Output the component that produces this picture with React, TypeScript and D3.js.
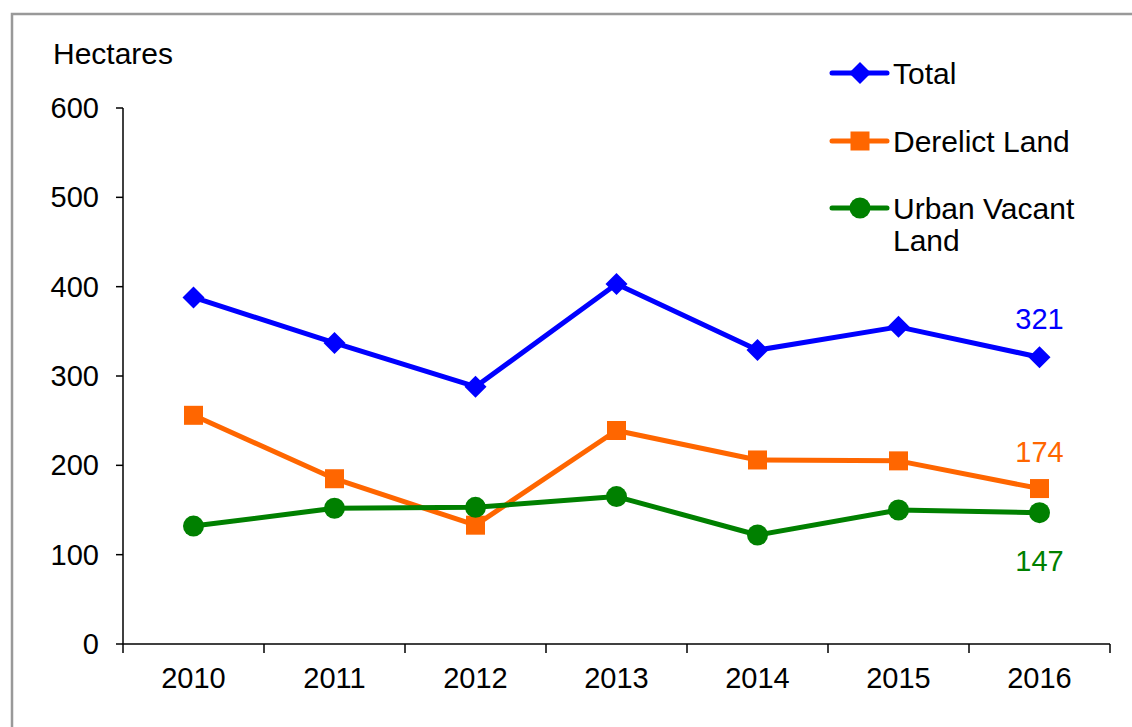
import React from "react";
import * as d3 from "d3";

const years = ["2010", "2011", "2012", "2013", "2014", "2015", "2016"];
const totalValues = [388, 337, 288, 403, 329, 355, 321];
const derelictValues = [256, 185, 133, 239, 206, 205, 174];
const urbanVacantValues = [132, 152, 153, 165, 122, 150, 147];
const yTicks = [0, 100, 200, 300, 400, 500, 600];
const seriesNames = ["Total", "Derelict Land", "Urban Vacant Land"];

const FONT = "'Liberation Sans', Arial, sans-serif";

export default function App() {
  const W = 1132, H = 727;
  const left = 123, right = 1110, top = 108, bottom = 644;
  const x = d3.scaleBand<string>().domain(years).range([left, right]).padding(0);
  const cx = (yr: string) => (x(yr) as number) + x.bandwidth() / 2;
  const y = d3.scaleLinear().domain([0, 600]).range([bottom, top]);

  const series = [
    { name: seriesNames[0], values: totalValues, color: "#0000FF", shape: "diamond" },
    { name: seriesNames[1], values: derelictValues, color: "#FF6600", shape: "square" },
    { name: seriesNames[2], values: urbanVacantValues, color: "#008000", shape: "circle" },
  ];

  const line = d3.line<number>().x((_, i) => cx(years[i])).y((v) => y(v));

  const marker = (shape: string, px: number, py: number, color: string, key: string) => {
    if (shape === "diamond") {
      const r = 11;
      return <path key={key} d={`M${px},${py - r}L${px + r},${py}L${px},${py + r}L${px - r},${py}Z`} fill={color} />;
    }
    if (shape === "square") {
      const s = 19;
      return <rect key={key} x={px - s / 2} y={py - s / 2} width={s} height={s} fill={color} />;
    }
    return <circle key={key} cx={px} cy={py} r={10.5} fill={color} />;
  };

  const boundaries = [...years.map((yr) => x(yr) as number), right];
  const last = years.length - 1;
  const labelOffsets = [-28, -27, 58];

  const legendY = [73, 141, 208];
  const FS = 29;
  const TS = 30;

  return (
    <svg width={W} height={H} style={{ position: "absolute", left: 0, top: 0, background: "#fff" }} fontFamily={FONT}>
      <rect x={0} y={0} width={W} height={H} fill="#fff" />
      <rect x={12} y={14} width={W + 50} height={H + 50} fill="none" stroke="#999" strokeWidth={2.5} />
      <text x={53} y={64} fontSize={TS} fill="#000">Hectares</text>

      {/* Y axis */}
      <line x1={left} y1={top} x2={left} y2={bottom} stroke="#000" strokeWidth={1.5} />
      {yTicks.map((t) => (
        <g key={t}>
          <line x1={left - 7} x2={left} y1={y(t)} y2={y(t)} stroke="#000" strokeWidth={1.5} />
          <text x={99} y={y(t)} dy="0.35em" textAnchor="end" fontSize={FS} fill="#000">{t}</text>
        </g>
      ))}

      {/* X axis */}
      <line x1={left} y1={bottom} x2={right} y2={bottom} stroke="#000" strokeWidth={1.5} />
      {boundaries.map((b, i) => (
        <line key={i} x1={b} x2={b} y1={bottom} y2={bottom + 9} stroke="#000" strokeWidth={1.5} />
      ))}
      {years.map((yr) => (
        <text key={yr} x={cx(yr)} y={688} textAnchor="middle" fontSize={FS} fill="#000">{yr}</text>
      ))}

      {/* Series */}
      {series.map((s) => (
        <g key={s.name}>
          <path d={line(s.values) as string} fill="none" stroke={s.color} strokeWidth={5} strokeLinejoin="round" />
          {s.values.map((v, i) => marker(s.shape, cx(years[i]), y(v), s.color, s.name + i))}
        </g>
      ))}

      {/* End labels */}
      {series.map((s, k) => (
        <text key={"lbl" + k} x={cx(years[last])} y={y(s.values[last]) + labelOffsets[k]} textAnchor="middle" fontSize={FS} fill={s.color}>
          {s.values[last]}
        </text>
      ))}

      {/* Legend */}
      {series.map((s, k) => (
        <g key={"leg" + k}>
          <line x1={832} x2={887} y1={legendY[k]} y2={legendY[k]} stroke={s.color} strokeWidth={5} strokeLinecap="round" />
          {marker(s.shape, 860, legendY[k], s.color, "lm" + k)}
          {k < 2 ? (
            <text x={893} y={legendY[k]} dy="0.35em" fontSize={TS} fill="#000">{s.name}</text>
          ) : (
            <text x={893} y={legendY[k]} dy="0.35em" fontSize={TS} fill="#000">
              <tspan x={893}>Urban Vacant</tspan>
              <tspan x={893} dy={32}>Land</tspan>
            </text>
          )}
        </g>
      ))}
    </svg>
  );
}
